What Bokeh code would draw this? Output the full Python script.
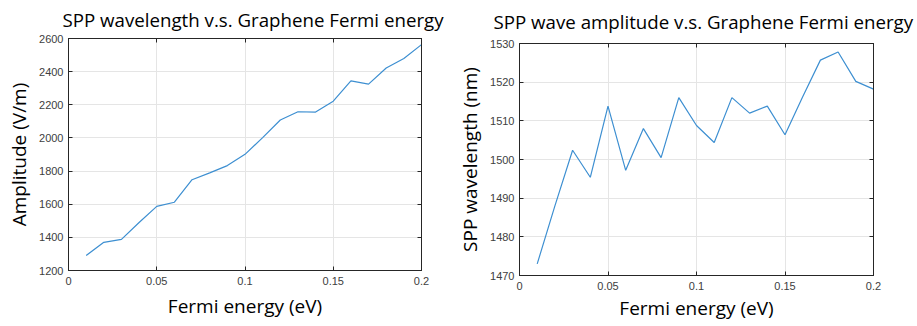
from bokeh.plotting import figure
from bokeh.layouts import row, column
from bokeh.models import Range1d, FixedTicker, NumeralTickFormatter, LinearAxis
from bokeh.embed import file_html
from bokeh.resources import INLINE

fermi_ev = [0.01, 0.02, 0.03, 0.04, 0.05, 0.06, 0.07, 0.08, 0.09, 0.10,
            0.11, 0.12, 0.13, 0.14, 0.15, 0.16, 0.17, 0.18, 0.19, 0.20]
amplitude_vm = [1290, 1370, 1388, 1490, 1587, 1612, 1748, 1789, 1833, 1901,
                2002, 2108, 2158, 2156, 2222, 2344, 2325, 2422, 2479, 2563]
spp_wavelength_nm = [1473.0, 1488.0, 1502.4, 1495.4, 1513.8, 1497.2, 1508.0, 1500.5, 1516.0, 1508.8,
                     1504.4, 1516.0, 1512.0, 1513.8, 1506.4, 1516.2, 1525.7, 1527.8, 1520.2, 1518.2]

x_ticks = [0, 0.05, 0.1, 0.15, 0.2]
left_y_ticks = [1200, 1400, 1600, 1800, 2000, 2200, 2400, 2600]
right_y_ticks = [1470, 1480, 1490, 1500, 1510, 1520, 1530]

titles = ["SPP wavelength v.s. Graphene Fermi energy",
          "SPP wave amplitude v.s. Graphene Fermi energy"]
x_label = "Fermi energy (eV)"
y_labels = ["Amplitude (V/m)", "SPP wavelength (nm)"]

LINE = "#3d8fd1"
TICK_COL = "#404040"
EDGE = "#262626"


def box_axis(ticks):
    ax = LinearAxis(ticker=FixedTicker(ticks=ticks),
                    major_label_overrides={t: "" for t in ticks})
    ax.major_label_text_font_size = "0px"
    ax.major_label_standoff = 0
    ax.major_tick_in = 4
    ax.major_tick_out = 0
    ax.minor_tick_in = 0
    ax.minor_tick_out = 0
    ax.axis_line_color = EDGE
    ax.major_tick_line_color = EDGE
    return ax


def make(width, title, ylab, ys, yr, yticks, borders, title_offset, title_standoff, xlab_standoff):
    l, r, t, b = borders
    p = figure(width=width, height=326, output_backend="svg", toolbar_location=None,
               x_range=Range1d(0, 0.2), y_range=Range1d(*yr),
               min_border_left=l, min_border_right=r, min_border_top=t, min_border_bottom=b)
    p.line(fermi_ev, ys, line_color=LINE, line_width=1.2)
    p.title.text = title
    p.title.align = "left"
    p.title.offset = title_offset
    p.title.vertical_align = "top"
    p.title.standoff = title_standoff
    p.title.text_font = "Open Sans"
    p.title.text_font_size = "18.7px"
    p.title.text_font_style = "normal"
    p.title.text_color = "#000000"
    p.outline_line_color = EDGE
    p.outline_line_alpha = 1
    p.outline_line_width = 1
    p.background_fill_color = "white"
    p.border_fill_color = "white"
    p.xaxis.ticker = FixedTicker(ticks=x_ticks)
    p.xaxis.formatter = NumeralTickFormatter(format="0.[00]")
    p.yaxis.ticker = FixedTicker(ticks=yticks)
    for ax in (p.xaxis[0], p.yaxis[0]):
        ax.major_tick_in = 4
        ax.major_tick_out = 0
        ax.minor_tick_in = 0
        ax.minor_tick_out = 0
        ax.axis_line_color = EDGE
        ax.major_tick_line_color = EDGE
        ax.major_label_text_font = "Liberation Sans"
        ax.major_label_text_font_size = "11px"
        ax.major_label_text_color = TICK_COL
        ax.axis_label_text_font = "Open Sans"
        ax.axis_label_text_font_size = "19px"
        ax.axis_label_text_font_style = "normal"
        ax.axis_label_text_color = "#000000"
    p.xaxis.axis_label = x_label
    p.yaxis.axis_label = ylab
    p.xaxis.major_label_standoff = 6
    p.yaxis.major_label_standoff = 5
    p.xaxis.axis_label_standoff = xlab_standoff
    p.yaxis.axis_label_standoff = 4
    p.grid.grid_line_color = "#e5e5e5"
    p.grid.grid_line_width = 1
    p.add_layout(box_axis(x_ticks), "above")
    p.add_layout(box_axis(yticks), "right")
    return p


p1 = make(450, titles[0], y_labels[0], amplitude_vm, (1200, 2600), left_y_ticks,
          (68, 29, 38, 56), -6, 10, 5)
p2 = make(467, titles[1], y_labels[1], spp_wavelength_nm, (1470, 1530), right_y_ticks,
          (69, 44, 43, 51), -26, 15, 2)

layout = row(column(p1), column(p2), spacing=0)
open("out.html", "w").write(file_html(layout, INLINE))
